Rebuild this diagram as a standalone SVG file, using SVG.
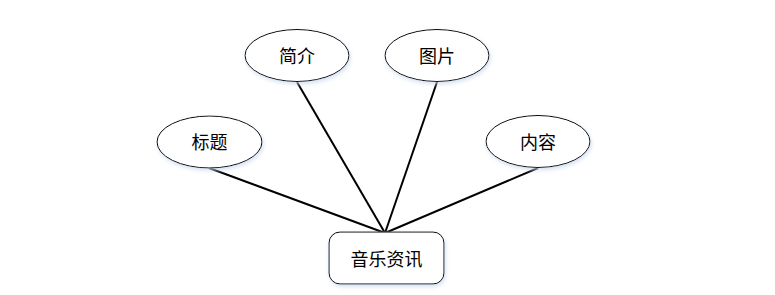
<svg xmlns="http://www.w3.org/2000/svg" width="775" height="295" viewBox="0 0 775 295">
<defs>
<filter id="sh" x="-20%" y="-30%" width="140%" height="160%">
<feGaussianBlur in="SourceAlpha" stdDeviation="2" result="b"/>
<feOffset dx="1" dy="2" in="b" result="o"/>
<feFlood flood-color="#c8d8ee" flood-opacity="0.8"/>
<feComposite in2="o" operator="in" result="s"/>
<feMerge><feMergeNode in="s"/><feMergeNode in="SourceGraphic"/></feMerge>
</filter>
</defs>
<style>
.n{fill:#fff;stroke:#000;stroke-width:1;filter:url(#sh)}
.t{font-family:"Noto Sans CJK SC","Noto Sans",sans-serif;font-size:18px;fill:#000;text-anchor:middle;dominant-baseline:central}
.c{stroke:#000;stroke-width:2;fill:none}
</style>
<rect width="775" height="295" fill="#fff"/>
<g id="connectors">
<line class="c" x1="209" y1="168" x2="385" y2="233"/>
<line class="c" x1="297" y1="82" x2="385" y2="233"/>
<line class="c" x1="437" y1="82" x2="385" y2="233"/>
<line class="c" x1="538" y1="168" x2="385" y2="233"/>
</g>
<g id="biaoti"><ellipse class="n" cx="209.5" cy="142" rx="52.5" ry="26"/><text class="t" x="209.5" y="141">标题</text></g>
<g id="jianjie"><ellipse class="n" cx="297" cy="55.5" rx="52" ry="26"/><text class="t" x="297" y="55">简介</text></g>
<g id="tupian"><ellipse class="n" cx="437" cy="55.5" rx="52" ry="26"/><text class="t" x="437" y="55">图片</text></g>
<g id="neirong"><ellipse class="n" cx="538" cy="141.5" rx="52" ry="26"/><text class="t" x="538" y="141">内容</text></g>
<g id="yinyue"><rect class="n" x="329" y="232" width="115" height="52" rx="11"/><text class="t" x="386.5" y="258">音乐资讯</text></g>
</svg>
